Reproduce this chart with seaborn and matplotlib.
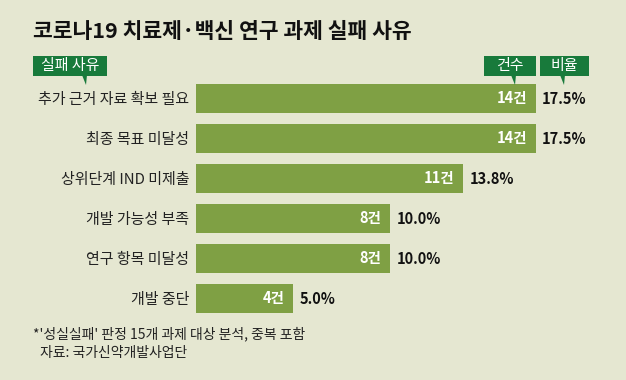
import matplotlib
matplotlib.use("Agg")
import matplotlib.pyplot as plt
from matplotlib.patches import Rectangle, Polygon
import seaborn as sns
import pandas as pd

# 데이터
reasons = ['추가 근거 자료 확보 필요', '최종 목표 미달성', '상위단계 IND 미제출',
           '개발 가능성 부족', '연구 항목 미달성', '개발 중단']
counts = [14, 14, 11, 8, 8, 4]
ratios = [17.5, 17.5, 13.8, 10.0, 10.0, 5.0]

title = '코로나19 치료제·백신 연구 과제 실패 사유'
note1 = "*'성실실패' 판정 15개 과제 대상 분석, 중복 포함"
note2 = '자료: 국가신약개발사업단'

bg = '#e5e7d1'
bar_color = '#7fa044'
box_color = '#187a3b'

sns.set_style('white')
plt.rcParams['font.family'] = ['Noto Sans CJK KR', 'DejaVu Sans']

W, H = 626, 380
fig = plt.figure(figsize=(W / 100, H / 100), dpi=100, facecolor=bg)


def px(x, y):
    return (x / W, 1 - y / H)


# 막대 영역 (행 간격 40px, 1건당 약 24.3px)
left, top, bottom = 196, 78.5, 318.5
ax = fig.add_axes([left / W, 1 - bottom / H, (W - left) / W, (bottom - top) / H])
ax.patch.set_visible(False)

df = pd.DataFrame({'reason': reasons, 'count': counts})
sns.barplot(data=df, x='count', y='reason', orient='h', color=bar_color,
            saturation=1, width=0.725, linewidth=0, ax=ax)
ax.set_xlim(0, (W - left) / 24.3)
ax.set_ylim(5.5, -0.5)
ax.set_xlabel('')
ax.set_ylabel('')
ax.set_xticks([])
sns.despine(ax=ax, left=True, bottom=True)
ax.tick_params(axis='y', length=0, pad=5, labelsize=10.8, labelcolor='#222222')

for i, (c, r) in enumerate(zip(counts, ratios)):
    ax.annotate(f'{c}건', (c, i), xytext=(-9, 0), textcoords='offset pixels',
                ha='right', va='center', color='white', fontsize=10.5,
                fontweight='bold')
    ax.annotate(f'{r:.1f}%', (c, i), xytext=(6, 0), textcoords='offset pixels',
                ha='left', va='center', color='#111111', fontsize=10.5,
                fontweight='bold')

# 제목
fig.text(*px(33, 32), title, fontsize=15.5, fontweight='bold', color='#111111',
         va='center', ha='left')

# 머리 상자
for text, x0, x1, tip in [('실패 사유', 33, 107, 86), ('건수', 484, 536, 515),
                          ('비율', 540, 589, 564)]:
    fig.patches.append(Rectangle(px(x0, 76), (x1 - x0) / W, 20 / H,
                                 transform=fig.transFigure, facecolor=box_color,
                                 edgecolor='none', zorder=5))
    fig.patches.append(Polygon([px(tip - 4, 75), px(tip + 1, 75), px(tip, 85)],
                               closed=True, transform=fig.transFigure,
                               facecolor=box_color, edgecolor='none', zorder=5))
    fig.text(*px((x0 + x1) / 2, 66), text, color='white', fontsize=10.8,
             fontweight='medium', ha='center', va='center', zorder=6)

# 주석
fig.text(*px(33, 334), note1, fontsize=10, color='#222222', va='center')
fig.text(*px(40, 353), note2, fontsize=10, color='#222222', va='center')

fig.savefig('out.png', dpi=100, facecolor=bg)
